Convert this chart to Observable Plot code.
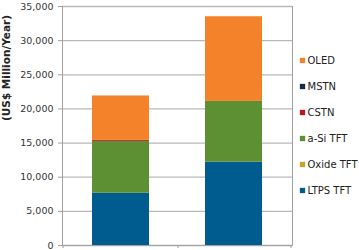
<!DOCTYPE html>
<html><head><meta charset="utf-8">
<script src="https://cdn.jsdelivr.net/npm/d3@7"></script>
<script src="https://cdn.jsdelivr.net/npm/@observablehq/plot@0.6"></script>
<style>
body{margin:0;background:#fff}
#wrap{position:relative;width:359px;height:250px;overflow:hidden}
#wrap svg{position:absolute;top:0}
</style>
</head><body><div id="wrap"></div>
<script>
const categories = ["Year A", "Year B"];
const series = ["LTPS TFT", "Oxide TFT", "a-Si TFT", "CSTN", "MSTN", "OLED"];
const colors = ["#005c8e", "#c8a22a", "#5c9033", "#c0141e", "#0f2c4a", "#f3822b"];
const ltps = [7650, 12200];
const oxide = [0, 0];
const asi = [7600, 8900];
const cstn = [150, 0];
const mstn = [0, 0];
const oled = [6500, 12400];
const yTicks = [0, 5000, 10000, 15000, 20000, 25000, 30000, 35000];
const yLabel = "(US$ Million/Year)";

const valuesBySeries = [ltps, oxide, asi, cstn, mstn, oled];
const data = [];
series.forEach((s, i) => categories.forEach((c, j) => data.push({category: c, series: s, value: valuesBySeries[i][j]})));

const font = {fontFamily: "DejaVu Sans, Verdana, sans-serif", fontSize: "9.5px", color: "#333", background: "transparent"};

const chart = Plot.plot({
  width: 359, height: 250,
  marginLeft: 62, marginRight: 67, marginTop: 6, marginBottom: 5,
  style: font,
  x: {domain: categories, paddingInner: 0.5, paddingOuter: 0.26, axis: null},
  y: {domain: [0, 35000], axis: null},
  color: {domain: series, range: colors},
  marks: [
    Plot.gridY(yTicks, {stroke: "#b9b9b9", strokeOpacity: 1, strokeWidth: 1.3}),
    Plot.barY(data, {x: "category", y: "value", fill: "series", order: series}),
    Plot.axisY(yTicks, {tickFormat: d3.format(","), tickSize: 4, tickPadding: 5, stroke: "#a0a0a0", label: null}),
    Plot.frame({anchor: "left", stroke: "#a0a0a0"}),
    Plot.frame({anchor: "right", stroke: "#a0a0a0"}),
    Plot.frame({anchor: "bottom", stroke: "#a0a0a0"}),
    Plot.axisX([categories[0], categories[1]], {tickFormat: () => "", tickSize: 3, dx: 57, stroke: "#a0a0a0", label: null}),
    Plot.axisX([categories[0]], {tickFormat: () => "", tickSize: 3, dx: -58, stroke: "#a0a0a0", label: null}),
    Plot.text([yLabel], {frameAnchor: "left", rotate: -90, dx: -56, dy: -5, fontWeight: "bold", fill: "#222", fontSize: 10.5})
  ]
});

const legendOrder = series.slice().reverse();
const legend = Plot.plot({
  width: 67, height: 250,
  marginLeft: 0, marginRight: 0, marginTop: 0, marginBottom: 0,
  style: {...font, fontSize: "10px"},
  y: {type: "point", domain: legendOrder, range: [47, 203], axis: null},
  color: {domain: series, range: colors},
  marks: [
    Plot.dot(legendOrder, {y: d => d, frameAnchor: "left", dx: 10, symbol: "square", r: 3, fill: d => d, stroke: null}),
    Plot.text(legendOrder, {y: d => d, text: d => d, frameAnchor: "left", dx: 15, textAnchor: "start", fill: "#222"})
  ]
});
legend.style.left = "292px";

const wrap = document.getElementById("wrap");
chart.style.left = "0px";
wrap.appendChild(chart);
wrap.appendChild(legend);
</script>
</body></html>
